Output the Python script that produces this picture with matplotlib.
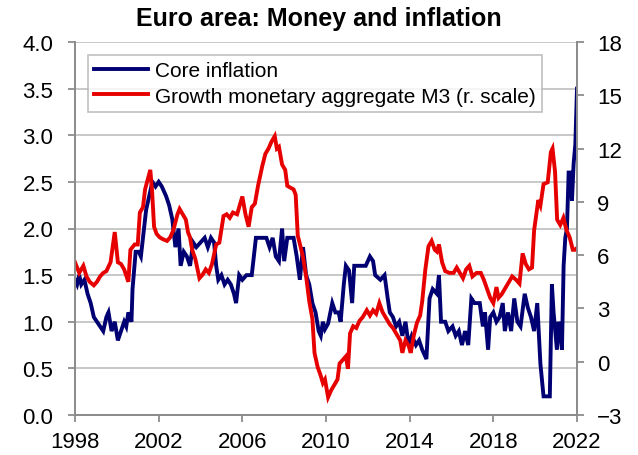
import matplotlib.pyplot as plt

plt.rcParams['font.family'] = ['Liberation Sans', 'DejaVu Sans']

# Core inflation (left scale, %)
core_t = [1998.00, 1998.10, 1998.20, 1998.30, 1998.45, 1998.60, 1998.75, 1998.90, 1999.05, 1999.20,
          1999.35, 1999.50, 1999.60, 1999.75, 1999.90, 2000.05, 2000.20, 2000.35, 2000.45, 2000.55,
          2000.70, 2000.75, 2000.90, 2001.05, 2001.15, 2001.25, 2001.40, 2001.55, 2001.70, 2001.85,
          2002.00, 2002.15, 2002.35, 2002.50, 2002.65, 2002.80, 2002.95, 2003.05, 2003.20, 2003.35,
          2003.50, 2003.65, 2003.80, 2004.00, 2004.20, 2004.35, 2004.50, 2004.65, 2004.75, 2004.85,
          2005.00, 2005.15, 2005.30, 2005.45, 2005.60, 2005.70, 2005.85, 2006.00, 2006.20, 2006.45,
          2006.65, 2006.90, 2007.15, 2007.30, 2007.45, 2007.60, 2007.75, 2007.90, 2008.00, 2008.15,
          2008.45, 2008.60, 2008.75, 2008.90, 2009.05, 2009.20, 2009.35, 2009.50, 2009.65, 2009.75,
          2009.85, 2009.95, 2010.10, 2010.30, 2010.45, 2010.60, 2010.70, 2010.85, 2010.95, 2011.10,
          2011.25, 2011.35, 2011.60, 2011.90, 2012.10, 2012.25, 2012.35, 2012.60, 2012.80, 2012.95,
          2013.05, 2013.20, 2013.35, 2013.50, 2013.65, 2013.80, 2013.95, 2014.10, 2014.30, 2014.45,
          2014.60, 2014.80, 2014.95, 2015.10, 2015.30, 2015.40, 2015.50, 2015.70, 2015.85, 2016.05,
          2016.20, 2016.35, 2016.50, 2016.65, 2016.80, 2016.95, 2017.10, 2017.35, 2017.50, 2017.60,
          2017.75, 2017.85, 2018.00, 2018.15, 2018.30, 2018.45, 2018.55, 2018.70, 2018.85, 2019.00,
          2019.15, 2019.30, 2019.50, 2019.65, 2019.80, 2019.95, 2020.10, 2020.25, 2020.40, 2020.70,
          2020.80, 2020.88, 2020.96, 2021.04, 2021.12, 2021.20, 2021.28, 2021.36, 2021.44, 2021.52,
          2021.60, 2021.68, 2021.76, 2021.84, 2021.92, 2022.00]
core_v = [1.45, 1.40, 1.50, 1.40, 1.45, 1.30, 1.20, 1.05, 1.00, 0.95,
          0.90, 1.05, 1.10, 0.90, 1.00, 0.80, 0.90, 1.00, 0.95, 1.10,
          1.00, 1.35, 1.75, 1.75, 1.70, 1.90, 2.20, 2.35, 2.50, 2.45,
          2.50, 2.45, 2.35, 2.25, 2.10, 1.80, 2.00, 1.60, 1.75, 1.70,
          1.60, 1.85, 1.80, 1.85, 1.90, 1.80, 1.90, 1.85, 1.60, 1.45,
          1.50, 1.40, 1.45, 1.40, 1.30, 1.20, 1.50, 1.45, 1.50, 1.50,
          1.90, 1.90, 1.90, 1.80, 1.90, 1.70, 1.65, 2.00, 1.65, 1.90,
          1.90, 1.70, 1.45, 1.80, 1.50, 1.40, 1.20, 1.10, 0.90, 0.85,
          1.00, 0.92, 0.98, 1.20, 1.10, 1.10, 1.00, 1.40, 1.60, 1.55,
          1.20, 1.60, 1.60, 1.60, 1.70, 1.65, 1.50, 1.45, 1.50, 1.25,
          1.10, 1.05, 0.95, 1.00, 0.85, 1.00, 0.75, 0.85, 0.75, 0.80,
          0.70, 0.60, 1.25, 1.35, 1.30, 1.50, 1.00, 1.00, 0.90, 0.95,
          0.85, 0.90, 0.75, 0.90, 0.75, 1.25, 1.20, 1.20, 0.95, 1.10,
          0.70, 1.05, 1.10, 1.00, 1.05, 1.20, 0.90, 1.10, 0.90, 1.25,
          1.00, 0.95, 1.30, 1.15, 1.05, 0.90, 1.20, 0.55, 0.20, 0.20,
          1.40, 1.10, 0.90, 0.70, 1.00, 0.90, 0.70, 1.60, 1.90, 2.00,
          2.60, 2.60, 2.30, 2.70, 2.90, 3.50]

# Growth of monetary aggregate M3 (right scale, %)
m3_t = [1998.00, 1998.10, 1998.20, 1998.30, 1998.40, 1998.55, 1998.70, 1998.90, 1999.05, 1999.20,
        1999.35, 1999.50, 1999.70, 1999.90, 2000.05, 2000.20, 2000.35, 2000.55, 2000.65, 2000.85,
        2001.00, 2001.10, 2001.25, 2001.35, 2001.60, 2001.68, 2001.78, 2001.90, 2002.05, 2002.20,
        2002.40, 2002.55, 2002.70, 2002.90, 2003.00, 2003.15, 2003.30, 2003.40, 2003.50, 2003.60,
        2003.75, 2003.95, 2004.10, 2004.25, 2004.40, 2004.55, 2004.75, 2004.90, 2005.10, 2005.25,
        2005.40, 2005.55, 2005.75, 2006.00, 2006.15, 2006.30, 2006.45, 2006.60, 2006.75, 2006.95,
        2007.10, 2007.25, 2007.40, 2007.55, 2007.65, 2007.75, 2007.90, 2008.05, 2008.15, 2008.30,
        2008.45, 2008.55, 2008.65, 2008.80, 2008.90, 2009.05, 2009.20, 2009.35, 2009.45, 2009.60,
        2009.75, 2009.85, 2009.95, 2010.10, 2010.25, 2010.40, 2010.55, 2010.65, 2010.80, 2010.95,
        2011.05, 2011.15, 2011.30, 2011.45, 2011.60, 2011.75, 2011.95, 2012.10, 2012.25, 2012.40,
        2012.55, 2012.70, 2012.90, 2013.05, 2013.20, 2013.40, 2013.55, 2013.65, 2013.80, 2013.95,
        2014.05, 2014.20, 2014.35, 2014.50, 2014.60, 2014.75, 2014.90, 2015.05, 2015.20, 2015.30,
        2015.40, 2015.55, 2015.70, 2015.90, 2016.10, 2016.25, 2016.40, 2016.55, 2016.70, 2016.85,
        2017.00, 2017.20, 2017.40, 2017.55, 2017.70, 2017.85, 2018.00, 2018.15, 2018.25, 2018.40,
        2018.55, 2018.70, 2018.90, 2019.10, 2019.25, 2019.40, 2019.55, 2019.70, 2019.85, 2019.95,
        2020.15, 2020.25, 2020.40, 2020.60, 2020.75, 2020.83, 2020.95, 2021.05, 2021.20, 2021.35,
        2021.50, 2021.65, 2021.80, 2021.90, 2022.00]
m3_v = [5.6, 5.3, 5.0, 5.2, 5.4, 4.8, 4.5, 4.3, 4.5, 4.8,
        5.0, 5.1, 5.6, 7.3, 5.6, 5.5, 5.2, 4.5, 6.3, 6.6,
        6.6, 8.4, 8.7, 9.7, 10.8, 9.7, 7.6, 7.2, 7.0, 6.9,
        6.8, 7.0, 7.4, 8.3, 8.6, 8.3, 8.0, 7.3, 7.0, 6.3,
        5.8, 4.7, 4.9, 5.2, 5.0, 5.5, 6.6, 6.7, 8.2, 8.3,
        8.1, 8.4, 8.3, 9.3, 8.3, 7.6, 8.7, 8.9, 9.9, 11.0,
        11.7, 12.0, 12.4, 12.7, 12.0, 12.1, 11.1, 10.8, 9.9, 9.8,
        9.7, 9.4, 7.1, 6.4, 5.9, 4.8, 3.4, 2.4, 0.5, -0.3,
        -0.8, -1.2, -1.0, -2.0, -1.6, -1.3, -1.0, -0.1, 0.1, 0.3,
        -0.4, 1.6, 2.0, 1.9, 2.3, 2.5, 2.9, 2.6, 2.9, 2.7,
        3.3, 2.8, 2.4, 2.1, 1.9, 1.5, 1.2, 0.5, 1.2, 0.9,
        0.5, 1.5, 2.2, 2.6, 3.4, 5.2, 6.5, 6.8, 6.3, 6.2,
        6.6, 5.6, 5.1, 5.0, 5.0, 5.3, 5.0, 4.7, 5.2, 5.4,
        4.8, 5.0, 5.0, 4.6, 4.1, 3.6, 3.3, 4.2, 3.6, 3.8,
        4.1, 4.4, 4.8, 4.6, 4.4, 6.1, 5.5, 5.2, 5.3, 7.4,
        9.1, 8.8, 10.0, 10.1, 11.8, 12.0, 10.7, 8.0, 7.7, 8.1,
        7.4, 7.0, 6.3, 6.3, 6.4]

years = [1998, 2002, 2006, 2010, 2014, 2018, 2022]
left_ticks = [0.0, 0.5, 1.0, 1.5, 2.0, 2.5, 3.0, 3.5, 4.0]
right_ticks = [-3, 0, 3, 6, 9, 12, 15, 18]

blue = '#000073'
red = '#e60000'
grey = '#8c8c8c'

fig = plt.figure(figsize=(6.38, 4.56), dpi=100)
ax = fig.add_axes([75 / 638, 1 - 416 / 456, 502 / 638, 373 / 456])
ax2 = ax.twinx()

l1, = ax.plot(core_t, core_v, color=blue, lw=2.8, solid_joinstyle='miter')
l2, = ax2.plot(m3_t, m3_v, color=red, lw=2.8, solid_joinstyle='miter')

ax.set_xlim(1998, 2022)
ax.set_ylim(0, 4)
ax2.set_ylim(-3, 18)
ax.set_xticks(years)
ax.set_xticklabels([str(y) for y in years])
ax.set_yticks(left_ticks)
ax.set_yticklabels([f'{v:.1f}' for v in left_ticks])
ax2.set_yticks(right_ticks)

ax.grid(axis='y', color='#c4c4c4', lw=1.3)
ax.set_axisbelow(True)

for a in (ax, ax2):
    a.spines['top'].set_visible(False)
    for s in ('left', 'right', 'bottom'):
        a.spines[s].set_color(grey)
        a.spines[s].set_linewidth(1.3)
    a.tick_params(axis='both', colors=grey, labelcolor='black', labelsize=16,
                  length=5, width=1.3, direction='out')
ax.tick_params(axis='y', pad=10.5)
ax.tick_params(axis='x', pad=6.5)
ax2.tick_params(axis='y', pad=9.5)

fig.suptitle('Euro area: Money and inflation', fontsize=18, fontweight='bold', y=0.985)

leg = ax2.legend([l1, l2], ['Core inflation', 'Growth monetary aggregate M3 (r. scale)'],
                 loc='upper left', bbox_to_anchor=(0.026, 0.965), fontsize=15,
                 frameon=True, fancybox=False, handlelength=2.6, handletextpad=0.3,
                 borderpad=0.3, labelspacing=0.3, borderaxespad=0)
leg.get_frame().set_edgecolor('#b0b0b0')
leg.get_frame().set_linewidth(1.2)

fig.savefig('out.png', dpi=100)
